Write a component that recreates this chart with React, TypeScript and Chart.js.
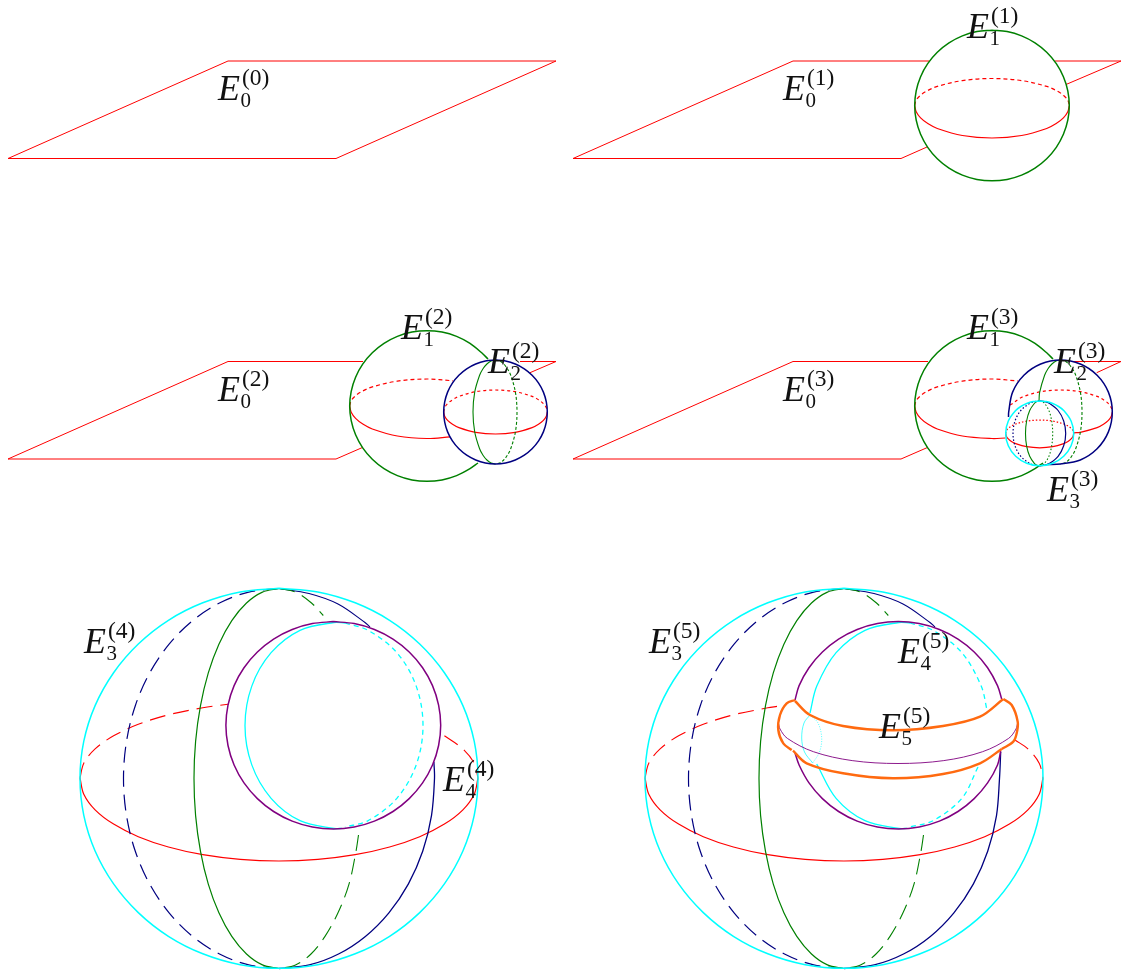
import React, { useEffect, useRef } from "react";
import { Chart, registerables } from "chart.js";

Chart.register(...registerables);

type P = number[][];
const RED = "#ff0000", GREEN = "#008000", NAVY = "#000080", CYAN = "#00ffff", PURPLE = "#800080", ORANGE = "#ff6a10";
const move = (p: P, dx: number, dy = 0): P => p.map(([x, y]) => [x + dx, y + dy]);

// ---- planes (straight outlines) ----
const plane0: P = [[8, 158.5], [228, 61], [556, 61], [336, 158.5], [8, 158.5]];
const plane1A: P = [[929, 61], [793, 61], [573, 158.5], [901, 158.5], [927, 147]];
const plane1B: P = [[1055, 61], [1121, 61], [1066, 84.5]];
const plane2A: P = [[363, 361.5], [228, 361.5], [8, 459], [336, 459], [362, 447.7]];
const plane2B: P = [[520, 361.5], [556, 361.5], [530, 372.7]];
const plane3A: P = [[928, 361.5], [793, 361.5], [573, 459], [901, 459], [927, 447.7]];
const plane3B: P = [[1073, 361.5], [1121, 361.5], [1096.7, 372.7]];

// ---- first sphere ----
const sphere1: P = [[992, 30.2], [1007.1, 31.6], [1021.6, 35.9], [1035, 42.9], [1046.7, 52.3], [1056.3, 63.7], [1063.4, 76.7], [1067.8, 90.8], [1069.3, 105.5], [1067.8, 120.2], [1063.4, 134.3], [1056.3, 147.3], [1046.7, 158.7], [1035, 168.1], [1021.6, 175.1], [1007.1, 179.4], [992, 180.8], [976.9, 179.4], [962.4, 175.1], [949, 168.1], [937.3, 158.7], [927.7, 147.3], [920.6, 134.3], [916.2, 120.2], [914.7, 105.5], [916.2, 90.8], [920.6, 76.7], [927.7, 63.7], [937.3, 52.3], [949, 42.9], [962.4, 35.9], [976.9, 31.6], [992, 30.2]];
const sphere1Back: P = [[914.7, 105.5], [916.2, 100.2], [920.6, 95.2], [927.8, 90.5], [937.3, 86.4], [962.4, 80.6], [992, 78.5], [1021.6, 80.6], [1046.7, 86.4], [1056.2, 90.5], [1063.4, 95.2], [1067.8, 100.2], [1069.3, 105.5]];
const sphere1Front: P = [[914.7, 105.5], [916.2, 111.8], [920.6, 117.9], [927.8, 123.6], [937.3, 128.5], [962.4, 135.5], [992, 138], [1021.6, 135.5], [1046.7, 128.5], [1056.2, 123.6], [1063.4, 117.9], [1067.8, 111.8], [1069.3, 105.5]];
const sphere1Cut: P = [[488, 359], [481.7, 352.8], [470, 343.4], [456.6, 336.4], [442, 332.1], [427, 330.7], [412, 332.1], [397.4, 336.4], [384, 343.4], [372.3, 352.8], [362.7, 364.2], [355.6, 377.2], [351.2, 391.3], [349.7, 406], [351.2, 420.7], [355.6, 434.8], [362.7, 447.8], [372.3, 459.2], [384, 468.6], [397.4, 475.6], [412, 479.9], [427, 481.3], [442, 479.9], [456.6, 475.6], [470, 468.6], [478, 463]];
const sphere1BackCut: P = [[349.7, 406], [351.2, 400.7], [355.6, 395.7], [362.8, 391], [372.3, 386.9], [397.4, 381.1], [427, 379], [453, 380.8]];
const sphere1FrontCut: P = [[349.7, 406], [351.2, 412.3], [355.6, 418.4], [362.8, 424.1], [372.3, 429], [397.4, 436], [427, 438.5], [450, 436.8]];
const sphere1BackCut3: P = [[914.7, 406], [916.2, 400.7], [920.6, 395.7], [927.8, 391], [937.3, 386.9], [962.4, 381.1], [992, 379], [1018, 381]];
const sphere1FrontCut3: P = [[914.7, 406], [916.2, 412.3], [920.6, 418.4], [927.8, 424.1], [937.3, 429], [962.4, 436], [992, 438.5], [1005.5, 438]];

// ---- second sphere ----
const sphere2: P = [[495.5, 360], [505.6, 361], [515.3, 364], [524.3, 368.8], [532.1, 375.2], [538.6, 383.1], [543.4, 392.1], [546.3, 401.9], [547.3, 412], [546.3, 422.1], [543.4, 431.9], [538.6, 440.9], [532.1, 448.8], [524.3, 455.2], [515.3, 460], [505.6, 463], [495.5, 464], [485.4, 463], [475.7, 460], [466.7, 455.2], [458.9, 448.8], [452.4, 440.9], [447.6, 431.9], [444.7, 422.1], [443.7, 412], [444.7, 401.9], [447.6, 392.1], [452.4, 383.1], [458.9, 375.2], [466.7, 368.8], [475.7, 364], [485.4, 361], [495.5, 360]];
const sphere2Back: P = [[443.7, 412], [444.7, 407.7], [447.6, 403.6], [452.5, 399.8], [458.9, 396.4], [475.7, 391.7], [495.5, 390], [515.3, 391.7], [532.1, 396.4], [538.5, 399.8], [543.4, 403.6], [546.3, 407.7], [547.3, 412]];
const sphere2Front: P = [[443.7, 412], [444.7, 416.3], [447.6, 420.4], [452.5, 424.2], [458.9, 427.6], [475.7, 432.3], [495.5, 434], [515.3, 432.3], [532.1, 427.6], [538.5, 424.2], [543.4, 420.4], [546.3, 416.3], [547.3, 412]];
const sphere2Left: P = [[495.5, 360], [491.1, 361], [486.9, 364], [483, 368.8], [479.6, 375.2], [474.7, 392.1], [473, 412], [474.7, 431.9], [479.6, 448.8], [483, 455.2], [486.9, 460], [491.1, 463], [495.5, 464]];
const sphere2Right: P = [[495.5, 360], [499.7, 361], [503.7, 364], [507.4, 368.8], [510.7, 375.2], [515.4, 392.1], [517, 412], [515.4, 431.9], [510.7, 448.8], [507.4, 455.2], [503.7, 460], [499.7, 463], [495.5, 464]];
const sphere2Cut: P = [[1008.5, 417], [1008.7, 412], [1012.6, 392.1], [1023.9, 375.2], [1040.7, 364], [1060.5, 360], [1080.3, 364], [1097.1, 375.2], [1108.4, 392.1], [1112.3, 412], [1108.4, 431.9], [1097.1, 448.8], [1080.3, 460], [1060.5, 464], [1047, 464.5]];
const sphere2BackCut: P = [[1010, 405], [1012.6, 403.6], [1017.5, 399.8], [1023.9, 396.4], [1040.7, 391.7], [1060.5, 390], [1080.3, 391.7], [1097.1, 396.4], [1103.5, 399.8], [1108.4, 403.6], [1111.3, 407.7], [1112.3, 412]];
const sphere2FrontCut: P = [[1074, 432.8], [1080.3, 432.3], [1097.1, 427.6], [1103.5, 424.2], [1108.4, 420.4], [1111.3, 416.3], [1112.3, 412]];
const sphere2LeftCut: P = [[1060.5, 360], [1056.1, 361], [1051.9, 364], [1048, 368.8], [1044.6, 375.2], [1039.7, 392.1], [1039, 401]];

// ---- third sphere, small ----
const small3: P = [[1039.7, 401], [1046.3, 401.6], [1052.7, 403.5], [1058.6, 406.5], [1063.7, 410.5], [1071.1, 421], [1073.7, 433.4], [1071.1, 445.8], [1063.7, 456.3], [1052.7, 463.3], [1039.7, 465.8], [1026.7, 463.3], [1015.7, 456.3], [1008.3, 445.8], [1005.7, 433.4], [1008.3, 421], [1015.7, 410.5], [1020.8, 406.5], [1026.7, 403.5], [1033.1, 401.6], [1039.7, 401]];
const small3Front: P = [[1005.7, 433.4], [1006.3, 436.2], [1008.3, 438.9], [1011.4, 441.4], [1015.7, 443.6], [1026.7, 446.7], [1039.7, 447.8], [1052.7, 446.7], [1063.7, 443.6], [1068, 441.4], [1071.1, 438.9], [1073.1, 436.2], [1073.7, 433.4]];
const small3Back: P = [[1005.7, 433.4], [1006.3, 430.8], [1008.3, 428.3], [1011.4, 426], [1015.7, 424], [1026.7, 421.1], [1039.7, 420.1], [1052.7, 421.1], [1063.7, 424], [1068, 426], [1071.1, 428.3], [1073.1, 430.8], [1073.7, 433.4]];
const small3GreenL: P = [[1039.7, 401], [1036.9, 401.6], [1034.3, 403.5], [1029.7, 410.5], [1026.6, 421], [1025.5, 433.4], [1026.6, 445.8], [1029.7, 456.3], [1034.3, 463.3], [1036.9, 465.2], [1039.7, 465.8]];
const small3GreenR: P = [[1039.7, 401], [1042.2, 401.6], [1044.7, 403.5], [1048.9, 410.5], [1051.7, 421], [1052.7, 433.4], [1051.7, 445.8], [1048.9, 456.3], [1044.7, 463.3], [1042.2, 465.2], [1039.7, 465.8]];
const small3NavyR: P = [[1039.7, 401], [1044.8, 401.6], [1049.7, 403.5], [1058.1, 410.5], [1063.7, 421], [1065.7, 433.4], [1063.7, 445.8], [1058.1, 456.3], [1049.7, 463.3], [1044.8, 465.2], [1039.7, 465.8]];
const small3NavyL: P = [[1039.7, 401], [1034.5, 401.6], [1029.5, 403.5], [1020.8, 410.5], [1015, 421], [1013, 433.4], [1015, 445.8], [1020.8, 456.3], [1029.5, 463.3], [1034.5, 465.2], [1039.7, 465.8]];

// ---- large sphere ----
const big: P = [[279, 588.3], [317.8, 591.9], [355.2, 602.8], [389.6, 620.3], [419.7, 644], [444.4, 672.7], [462.9, 705.6], [474.2, 741.2], [478, 778.3], [474.2, 815.4], [462.9, 851], [444.4, 883.9], [419.7, 912.6], [389.6, 936.3], [355.2, 953.8], [317.8, 964.7], [279, 968.3], [240.2, 964.7], [202.8, 953.8], [168.4, 936.3], [138.3, 912.6], [113.6, 883.9], [95.1, 851], [83.8, 815.4], [80, 778.3], [83.8, 741.2], [95.1, 705.6], [113.6, 672.7], [138.3, 644], [168.4, 620.3], [202.8, 602.8], [240.2, 591.9], [279, 588.3]];
const bigFront: P = [[80, 778], [83.8, 794.2], [95.1, 809.8], [113.6, 824.1], [138.3, 836.7], [168.4, 847], [202.8, 854.7], [240.2, 859.4], [279, 861], [317.8, 859.4], [355.2, 854.7], [389.6, 847], [419.7, 836.7], [444.4, 824.1], [462.9, 809.8], [474.2, 794.2], [478, 778]];
const bigBackL4: P = [[80, 778], [83.8, 763.2], [95.1, 748.9], [113.6, 735.8], [138.3, 724.3], [168.4, 714.8], [202.8, 707.8], [228, 704.3]];
const bigBackR4: P = [[444.4, 735.8], [462.9, 748.9], [474.2, 763.2], [478, 778]];
const bigBackL5: P = [[645, 778], [648.8, 763.2], [660.1, 748.9], [678.6, 735.8], [703.3, 724.3], [733.4, 714.8], [767.8, 707.8], [777, 706.4]];
const bigBackR5: P = [[1015, 740], [1027.9, 748.9], [1039.2, 763.2], [1043, 778]];
const greenFront: P = [[279, 588.5], [262.4, 592.1], [246.5, 603], [231.8, 620.6], [218.9, 644.2], [208.3, 672.9], [200.5, 705.7], [195.6, 741.4], [194, 778.5], [195.6, 815.6], [200.5, 851.3], [208.3, 884.1], [218.9, 912.8], [231.8, 936.4], [246.5, 954], [262.4, 964.9], [279, 968.5]];
const greenBackTop: P = [[279, 588.5], [295.6, 592.1], [311.5, 603], [323.3, 615.5]];
const greenBackLow: P = [[358.5, 835], [356, 851.3], [349, 884.1], [338, 912.8], [325, 936.4], [311, 954], [295.5, 964.9], [279, 968.5]];
const navyBack: P = [[279, 588.5], [248.7, 592.1], [219.5, 603], [192.6, 620.6], [169.1, 644.2], [149.7, 672.9], [135.3, 705.7], [126.5, 741.4], [123.5, 778.5], [126.5, 815.6], [135.3, 851.3], [149.7, 884.1], [169.1, 912.8], [192.6, 936.4], [219.5, 954], [248.7, 964.9], [279, 968.5]];
const navyTop: P = [[279, 588.5], [309, 593.5], [338, 604], [365, 622.5], [370, 627]];
const navyLow: P = [[433.9, 761.7], [434.5, 778.5], [431.5, 815.6], [422.7, 851.3], [408.3, 884.1], [388.9, 912.8], [365.4, 936.4], [338.5, 954], [309.3, 964.9], [279, 968.5]];
const navyLow5: P = [[1000.7, 752], [999.5, 778.5], [996.5, 815.6], [987.7, 851.3], [973.3, 884.1], [953.9, 912.8], [930.4, 936.4], [903.5, 954], [874.3, 964.9], [844, 968.5]];

// ---- fourth sphere ----
const purple4: P = [[333.3, 621.6], [354.2, 623.6], [374.4, 629.5], [393, 639.1], [409.2, 652], [422.6, 667.7], [432.5, 685.6], [438.6, 705.1], [440.7, 725.3], [438.6, 745.5], [432.5, 765], [422.6, 782.9], [409.2, 798.6], [393, 811.5], [374.4, 821.1], [354.2, 827], [333.3, 829], [312.4, 827], [292.2, 821.1], [273.6, 811.5], [257.4, 798.6], [244, 782.9], [234.1, 765], [228, 745.5], [225.9, 725.3], [228, 705.1], [234.1, 685.6], [244, 667.7], [257.4, 652], [273.6, 639.1], [292.2, 629.5], [312.4, 623.6], [333.3, 621.6]];
const cyanLeft4: P = [[345, 623], [334, 622.5], [300, 630.3], [271.1, 652.7], [251.8, 686.1], [245, 725.5], [251.8, 764.9], [271.1, 798.3], [300, 820.7], [334, 828.5], [342, 828.3]];
const cyanRight4: P = [[345, 623], [368, 630.3], [396.9, 652.7], [416.2, 686.1], [423, 725.5], [416.2, 764.9], [396.9, 798.3], [368, 820.7], [345, 827]];

// ---- panel six pieces ----
const purpleUp5: P = [[795, 700], [799.1, 685.6], [809, 667.7], [822.4, 652], [838.6, 639.1], [857.2, 629.5], [877.4, 623.6], [898.3, 621.6], [919.2, 623.6], [939.4, 629.5], [958, 639.1], [974.2, 652], [987.6, 667.7], [997.5, 685.6], [1001.7, 699]];
const purpleLow5: P = [[795, 753], [799.1, 765], [809, 782.9], [822.4, 798.6], [838.6, 811.5], [857.2, 821.1], [877.4, 827], [898.3, 829], [919.2, 827], [939.4, 821.1], [958, 811.5], [974.2, 798.6], [987.6, 782.9], [997.5, 765], [1000.7, 751]];
const purpleEq5: P = [[778.3, 722.7], [780, 729], [787.4, 738.4], [813.4, 751.7], [852.2, 760.6], [898, 763.5], [943.8, 760.6], [982.6, 751.7], [1008.6, 738.4], [1016, 729], [1017.7, 722.7]];
const orangeUp5: P = [[795, 701], [810, 715], [843, 726], [893, 730.3], [943, 726], [980, 716.7], [1003, 699.3]];
const orangeLow5: P = [[793, 750.7], [806.7, 763.3], [843, 773.3], [893, 778.3], [943, 774], [980, 763.3], [1001.7, 749]];
const orangeLeft5: P = [[795, 700], [786.7, 703.3], [780, 715], [778.3, 730], [783.3, 743.3], [791.7, 750]];
const orangeRight5: P = [[1003.3, 699], [1011.7, 705], [1017.7, 721.7], [1016.7, 733.3], [1013.3, 741.7], [1001.7, 749]];
const cyanSmallL5: P = [[810, 715], [804, 723], [801.7, 738], [804.5, 752], [812.7, 763]];
const cyanSmallR5: P = [[810, 715], [818, 723], [821.7, 738], [819.5, 752], [812.7, 763]];
const cyanLeftUp5: P = [[910, 623], [899, 622.5], [865, 630.3], [836.1, 652.7], [816.8, 686.1], [810, 713]];
const cyanLeftLow5: P = [[816.7, 764], [836.1, 798.3], [865, 820.7], [899, 828.5], [907, 828.3]];
const cyanRightUp5: P = [[910, 623], [933, 630.3], [961.9, 652.7], [981.2, 686.1], [987, 710]];
const cyanRightLow5: P = [[978, 767], [961.9, 798.3], [933, 820.7], [910, 827]];

// ---- labels: subscript, superscript, position of the E ----
const labelSubs = ["0", "0", "1", "0", "1", "2", "0", "1", "2", "3", "3", "4", "3", "4", "5"];
const labelSups = ["(0)", "(1)", "(1)", "(2)", "(2)", "(2)", "(3)", "(3)", "(3)", "(3)", "(4)", "(4)", "(5)", "(5)", "(5)"];
const labelSpots: P = [[218, 100], [783, 100], [967, 38], [218, 401], [401, 339], [488, 373], [783, 401], [967, 339], [1054, 373], [1047, 501], [84, 653], [443, 791], [649, 653], [898, 663], [879, 738]];

const D6 = 565;
const DASH_SMALL = [4, 3];
const DOT = [1.5, 2];
const DASH_BIG = [16, 8];
const DASH_CY = [5, 4];

// points, colour, width, dash, straight
type Row = [P, string, number, number[]?, boolean?];
const rows: Row[] = [
  [plane0, RED, 1, undefined, true],
  [plane1A, RED, 1, undefined, true],
  [plane1B, RED, 1, undefined, true],
  [plane2A, RED, 1, undefined, true],
  [plane2B, RED, 1, undefined, true],
  [plane3A, RED, 1, undefined, true],
  [plane3B, RED, 1, undefined, true],
  // panel 2
  [sphere1Back, RED, 1.2, DASH_SMALL],
  [sphere1Front, RED, 1.2],
  [sphere1, GREEN, 1.5],
  // panel 3
  [sphere1BackCut, RED, 1.2, DASH_SMALL],
  [sphere1FrontCut, RED, 1.2],
  [sphere1Cut, GREEN, 1.5],
  [sphere2Back, RED, 1.2, [3, 3]],
  [sphere2Front, RED, 1.2],
  [sphere2Left, GREEN, 1.1],
  [sphere2Right, GREEN, 1.1, [3, 2]],
  [sphere2, NAVY, 1.5],
  // panel 4
  [sphere1BackCut3, RED, 1.2, DASH_SMALL],
  [sphere1FrontCut3, RED, 1.2],
  [move(sphere1Cut, D6), GREEN, 1.5],
  [sphere2BackCut, RED, 1.2, [3, 3]],
  [sphere2FrontCut, RED, 1.2],
  [sphere2LeftCut, GREEN, 1.1],
  [move(sphere2Right, D6), GREEN, 1.1, [3, 2]],
  [sphere2Cut, NAVY, 1.5],
  [small3Back, RED, 1.2, DOT],
  [small3Front, RED, 1.2],
  [small3GreenL, GREEN, 1.1],
  [small3GreenR, GREEN, 1.1, DOT],
  [small3NavyL, NAVY, 1.2, DOT],
  [small3NavyR, NAVY, 1.2],
  [small3, CYAN, 1.5],
  // panel 5
  [bigBackL4, RED, 1.1, DASH_BIG],
  [bigBackR4, RED, 1.1, DASH_BIG],
  [bigFront, RED, 1.2],
  [navyBack, NAVY, 1.2, DASH_BIG],
  [navyTop, NAVY, 1.1],
  [navyLow, NAVY, 1.3],
  [greenFront, GREEN, 1.2],
  [greenBackTop, GREEN, 1.1, DASH_BIG],
  [greenBackLow, GREEN, 1.1, DASH_BIG],
  [cyanLeft4, CYAN, 1.3],
  [cyanRight4, CYAN, 1.3, DASH_CY],
  [purple4, PURPLE, 1.5],
  [big, CYAN, 1.5],
  // panel 6
  [bigBackL5, RED, 1.1, DASH_BIG],
  [bigBackR5, RED, 1.1, DASH_BIG],
  [move(bigFront, D6), RED, 1.2],
  [move(navyBack, D6), NAVY, 1.2, DASH_BIG],
  [move(navyTop, D6), NAVY, 1.1],
  [navyLow5, NAVY, 1.3],
  [move(greenFront, D6), GREEN, 1.2],
  [move(greenBackTop, D6), GREEN, 1.1, DASH_BIG],
  [move(greenBackLow, D6), GREEN, 1.1, DASH_BIG],
  [cyanLeftUp5, CYAN, 1.3],
  [cyanLeftLow5, CYAN, 1.3],
  [cyanRightUp5, CYAN, 1.3, DASH_CY],
  [cyanRightLow5, CYAN, 1.3, DASH_CY],
  [cyanSmallL5, CYAN, 0.7],
  [cyanSmallR5, CYAN, 0.7, [1, 1.5]],
  [purpleUp5, PURPLE, 1.5],
  [purpleLow5, PURPLE, 1.5],
  [purpleEq5, PURPLE, 0.9],
  [orangeUp5, ORANGE, 2.4],
  [orangeLow5, ORANGE, 2.4],
  [orangeLeft5, ORANGE, 2.4],
  [orangeRight5, ORANGE, 2.4],
  [move(big, D6), CYAN, 1.5],
];

const labelPlugin = {
  id: "labels",
  afterDatasetsDraw(chart: any) {
    const { ctx, scales } = chart;
    ctx.save();
    ctx.fillStyle = "#111";
    ctx.textAlign = "left";
    ctx.textBaseline = "alphabetic";
    labelSpots.forEach(([x, y], i) => {
      const px = scales.x.getPixelForValue(x);
      const py = scales.y.getPixelForValue(y);
      ctx.font = "italic 36px 'Liberation Serif'";
      ctx.fillText("E", px, py);
      ctx.font = "23.5px 'Liberation Serif'";
      ctx.fillText(labelSups[i], px + 24, py - 15);
      ctx.font = "21px 'Liberation Serif'";
      ctx.fillText(labelSubs[i], px + 22.5, py + 7);
    });
    ctx.restore();
  },
};

export default function App() {
  const ref = useRef<HTMLCanvasElement>(null);
  useEffect(() => {
    document.body.style.margin = "0";
    const chart = new Chart(ref.current!, {
      type: "scatter",
      data: {
        datasets: rows.map(([pts, color, width, dash, straight], i) => ({
          data: pts.map(([x, y]) => ({ x, y })),
          showLine: true,
          borderColor: color,
          backgroundColor: color,
          borderWidth: width,
          borderDash: dash ?? [],
          tension: straight ? 0 : 0.34,
          pointRadius: 0,
          pointHoverRadius: 0,
          fill: false,
          order: rows.length - i,
          clip: false as any,
        })),
      },
      options: {
        animation: false,
        responsive: false,
        events: [],
        layout: { padding: 0 },
        plugins: { legend: { display: false }, tooltip: { enabled: false } },
        scales: {
          x: { type: "linear", display: false, min: 0, max: 1128 },
          y: { type: "linear", display: false, min: 0, max: 971, reverse: true },
        },
      },
      plugins: [labelPlugin],
    });
    return () => chart.destroy();
  }, []);
  return <canvas ref={ref} width={1128} height={971} style={{ display: "block" }} />;
}
